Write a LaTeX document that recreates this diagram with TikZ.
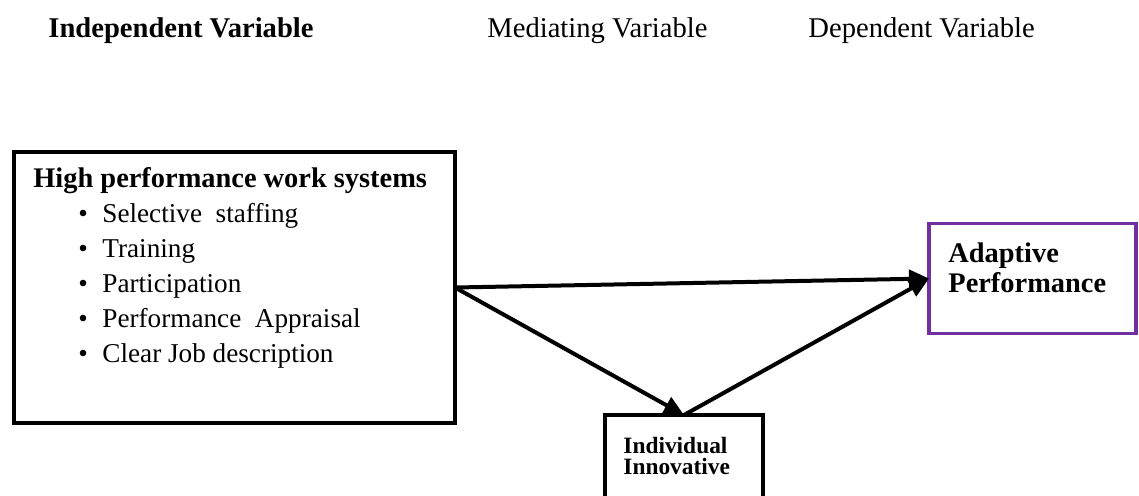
\documentclass[tikz,border=0pt]{standalone}
\usepackage{fontspec}
\setmainfont{Liberation Serif}
\usetikzlibrary{arrows.meta, positioning}
\definecolor{apurple}{RGB}{112,48,160}
\tikzstyle{hdr}=[anchor=base west,inner sep=0pt,font=\fontsize{14.3}{16}\selectfont]
\tikzstyle{txt}=[anchor=base west,inner sep=0pt,font=\fontsize{13.6}{16}\selectfont]
\tikzstyle{blk}=[draw,rectangle,inner sep=0pt,outer sep=0pt,anchor=north west]
\tikzstyle{link}=[line width=2pt,-{Triangle[length=10pt,width=9pt]}]

\begin{document}
\begin{tikzpicture}[x=0.5pt,y=-0.5pt]
\useasboundingbox (0,0) rectangle (1139,495);
\clip (0,0) rectangle (1139,495);
\node[hdr,font=\fontsize{14.3}{16}\selectfont\bfseries] (indep) at (48,37) {Independent Variable};
\node[hdr] (medi) at (487,37) {Mediating Variable};
\node[hdr] (dep) at (808,37) {Dependent Variable};

\node[blk,line width=2pt,minimum width=220.5pt,minimum height=135.5pt] (hpws) at (14,152) {};
\node[blk,line width=1.6pt,draw=apurple,minimum width=103.5pt,minimum height=55pt] (adapt) at (929,223.5) {};
\node[blk,line width=2pt,anchor=north,minimum width=79pt,minimum height=52.5pt] (innov) at (684,415) {};

\node[txt,font=\fontsize{14.2}{16}\selectfont\bfseries] (hpwstitle) at (33,187) {High performance work systems};
\foreach \t [count=\i] in {Selective\ \ staffing, Training, Participation, Performance\ \ Appraisal, Clear Job description} {
    \node[txt] (bul\i) at (78,{187+35*\i}) {\textbullet};
    \node[txt] (item\i) at (102,{187+35*\i}) {\t};}

\node[txt,font=\fontsize{14.2}{16}\selectfont\bfseries] (adapt1) at (948,262) {Adaptive};
\node[txt,font=\fontsize{14.2}{16}\selectfont\bfseries] (adapt2) at (948,292) {Performance};
\node[txt,font=\fontsize{11.7}{13}\selectfont\bfseries] (innov1) at (623,453) {Individual};
\node[txt,font=\fontsize{11.7}{13}\selectfont\bfseries] (innov2) at (623,474) {Innovative};

\draw[link] (hpws.east) -- (adapt.west);
\draw[link] (hpws.east) -- (innov.north);
\draw[link] (innov.north) -- (adapt.west);
\end{tikzpicture}
\end{document}
